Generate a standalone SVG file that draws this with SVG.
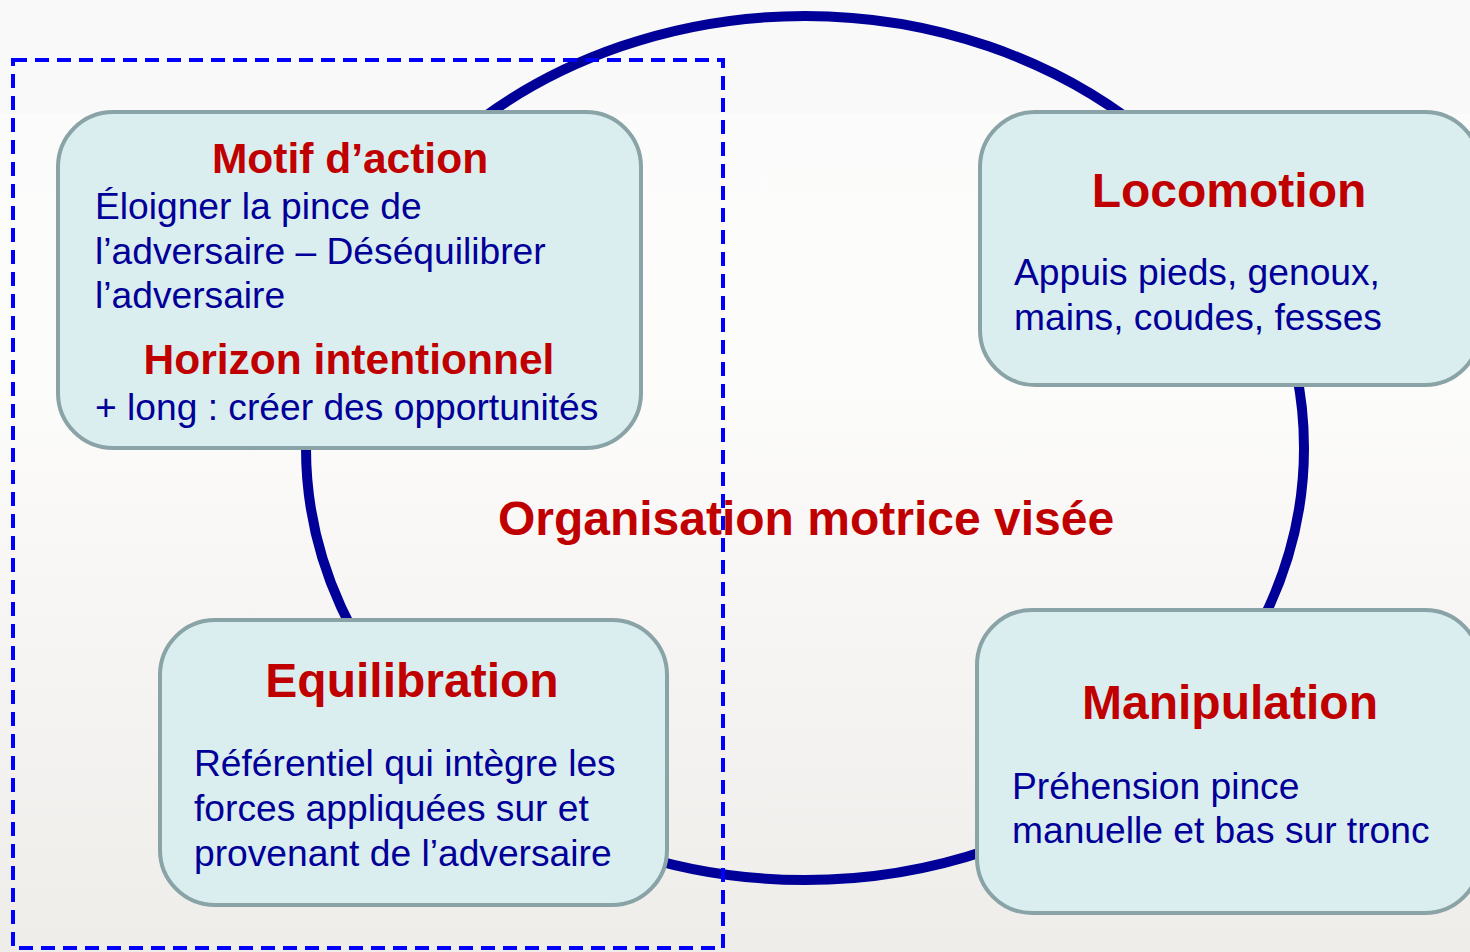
<svg xmlns="http://www.w3.org/2000/svg" width="1470" height="952" viewBox="0 0 1470 952">
<defs>
<linearGradient id="bg" x1="0" y1="0" x2="0" y2="1">
<stop offset="0" stop-color="#fbfbfb"/>
<stop offset="0.4" stop-color="#fcfcfb"/>
<stop offset="0.7" stop-color="#f6f4f2"/>
<stop offset="1" stop-color="#efedea"/>
</linearGradient>
<style>
.box{fill:#daedef;stroke:#89a3a6;stroke-width:4}
.title{font-family:"Liberation Sans",Arial,sans-serif;font-weight:bold;fill:#c00000;text-anchor:middle}
.body{font-family:"Liberation Sans",Arial,sans-serif;font-size:37.2px;fill:#000099}
</style>
</defs>
<rect x="0" y="0" width="1470" height="952" fill="url(#bg)"/>
<rect x="0" y="0" width="1470" height="114" fill="#f9f9f9"/>
<g id="connectors">
<ellipse cx="805" cy="448" rx="499" ry="432" fill="none" stroke="#000099" stroke-width="10"/>
</g>
<text class="title" x="806" y="535" font-size="48">Organisation motrice visée</text>
<g id="motif">
<rect class="box" x="58" y="112" width="583" height="336" rx="55"/>
<text class="title" x="350" y="173" font-size="42.5">Motif d’action</text>
<text class="body" x="95" y="219">Éloigner la pince de</text>
<text class="body" x="95" y="264">l’adversaire – Déséquilibrer</text>
<text class="body" x="95" y="308">l’adversaire</text>
<text class="title" x="349" y="374" font-size="42.5">Horizon intentionnel</text>
<text class="body" x="95" y="420">+ long : créer des opportunités</text>
</g>
<g id="locomotion">
<rect class="box" x="980" y="112" width="500" height="273" rx="55"/>
<text class="title" x="1229" y="207" font-size="48">Locomotion</text>
<text class="body" x="1014" y="285">Appuis pieds, genoux,</text>
<text class="body" x="1014" y="330">mains, coudes, fesses</text>
</g>
<g id="equilibration">
<rect class="box" x="160" y="620" width="507" height="285" rx="55"/>
<text class="title" x="412" y="697" font-size="48">Equilibration</text>
<text class="body" x="194" y="776">Référentiel qui intègre les</text>
<text class="body" x="194" y="821">forces appliquées sur et</text>
<text class="body" x="194" y="866">provenant de l’adversaire</text>
</g>
<g id="manipulation">
<rect class="box" x="977" y="610" width="503" height="303" rx="55"/>
<text class="title" x="1230" y="719" font-size="48">Manipulation</text>
<text class="body" x="1012" y="799">Préhension pince</text>
<text class="body" x="1012" y="843">manuelle et bas sur tronc</text>
</g>
<g id="group-frame">
<rect x="13" y="60" width="710" height="888" fill="none" stroke="#0000ff" stroke-width="4" stroke-dasharray="14 8"/>
</g>
</svg>
